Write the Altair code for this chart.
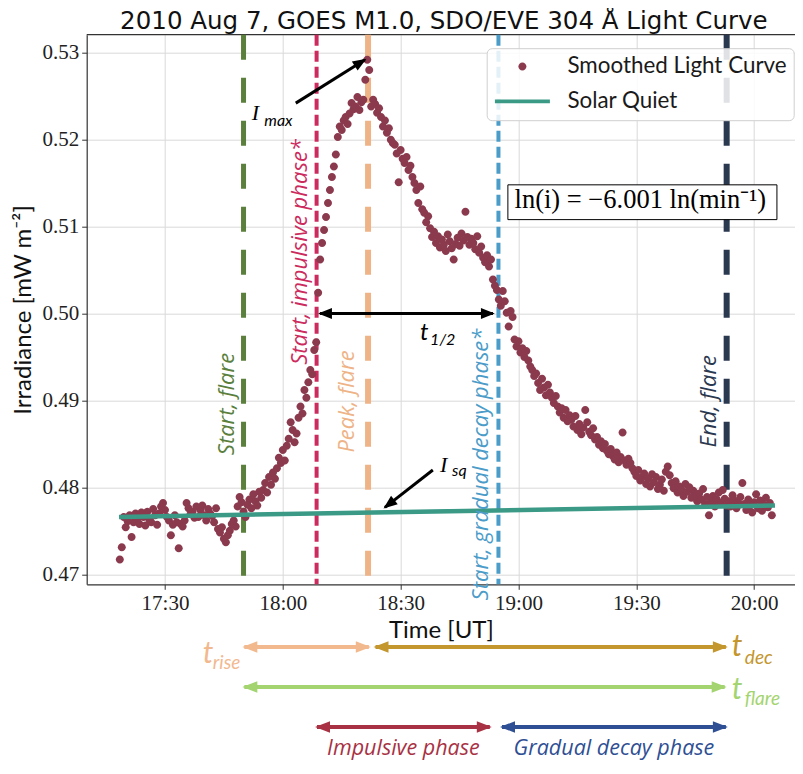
import math
import altair as alt
import pandas as pd

# ---------------- data ----------------
TITLE = "2010 Aug 7, GOES M1.0, SDO/EVE 304 Å Light Curve"

# Smoothed light curve, irradiance in mW m^-2; time in minutes after 17:00 UT,
# first sample at 17:18.5, one sample every 0.5 min
curve_start = 18.5
curve_step = 0.5
curve_values = [
    0.4717, 0.4731, 0.4766, 0.4754, 0.4761, 0.4768, 0.4743, 0.4760, 0.4770, 0.4764,
    0.4758, 0.4771, 0.4766, 0.4756, 0.4772, 0.4763, 0.4760, 0.4775, 0.4768, 0.4757,
    0.4770, 0.4778, 0.4782, 0.4774, 0.4766, 0.4762, 0.4745, 0.4757, 0.4768, 0.4760,
    0.4730, 0.4758, 0.4755, 0.4762, 0.4782, 0.4776, 0.4769, 0.4772, 0.4765, 0.4778,
    0.4766, 0.4774, 0.4779, 0.4768, 0.4762, 0.4775, 0.4770, 0.4767, 0.4760, 0.4776,
    0.4752, 0.4748, 0.4754, 0.4741, 0.4737, 0.4745, 0.4750, 0.4758, 0.4762, 0.4755,
    0.4778, 0.4789, 0.4783, 0.4772, 0.4766, 0.4780, 0.4786, 0.4776, 0.4792, 0.4784,
    0.4779, 0.4795, 0.4788, 0.4797, 0.4805, 0.4794, 0.4812, 0.4803, 0.4817, 0.4810,
    0.4822, 0.4834, 0.4828, 0.4843, 0.4831, 0.4848, 0.4856, 0.4875, 0.4866, 0.4852,
    0.4862, 0.4880, 0.4893, 0.4885, 0.4912, 0.4903, 0.4921, 0.4935, 0.4930, 0.4958,
    0.4967, 0.5024, 0.5062, 0.5081, 0.5096, 0.5111, 0.5127, 0.5142, 0.5157, 0.5169,
    0.5183, 0.5203, 0.5215, 0.5211, 0.5222, 0.5226, 0.5218, 0.5230, 0.5242, 0.5235,
    0.5238, 0.5249, 0.5234, 0.5243, 0.5246, 0.5269, 0.5292, 0.5280, 0.5238, 0.5246,
    0.5241, 0.5231, 0.5236, 0.5226, 0.5215, 0.5222, 0.5208, 0.5213, 0.5200, 0.5196,
    0.5194, 0.5184, 0.5151, 0.5188, 0.5178, 0.5173, 0.5180, 0.5165, 0.5170, 0.5157,
    0.5150, 0.5142, 0.5127, 0.5146, 0.5120, 0.5116, 0.5105, 0.5112, 0.5098, 0.5088,
    0.5094, 0.5081, 0.5089, 0.5076, 0.5085, 0.5079, 0.5072, 0.5091, 0.5083, 0.5075,
    0.5062, 0.5080, 0.5087, 0.5078, 0.5092, 0.5084, 0.5117, 0.5088, 0.5079, 0.5086,
    0.5081, 0.5074, 0.5089, 0.5070, 0.5077, 0.5064, 0.5059, 0.5067, 0.5054, 0.5062,
    0.5039, 0.5032, 0.5027, 0.5016, 0.5009, 0.5026, 0.5014, 0.5001, 0.4985, 0.5003,
    0.4996, 0.4970, 0.4962, 0.4968, 0.4955, 0.4960, 0.4950, 0.4957, 0.4946, 0.4939,
    0.4935, 0.4928, 0.4931, 0.4920, 0.4912, 0.4925, 0.4915, 0.4906, 0.4918, 0.4909,
    0.4903, 0.4897, 0.4905, 0.4893, 0.4886, 0.4891, 0.4880, 0.4889, 0.4876, 0.4883,
    0.4878, 0.4870, 0.4882, 0.4866, 0.4873, 0.4861, 0.4869, 0.4889, 0.4875, 0.4864,
    0.4860, 0.4868, 0.4855, 0.4858, 0.4849, 0.4853, 0.4845, 0.4850, 0.4842, 0.4838,
    0.4844, 0.4836, 0.4832, 0.4840, 0.4829, 0.4835, 0.4863, 0.4831, 0.4826, 0.4833,
    0.4828, 0.4822, 0.4818, 0.4813, 0.4820, 0.4808, 0.4812, 0.4816, 0.4804, 0.4810,
    0.4801, 0.4815, 0.4806, 0.4812, 0.4798, 0.4803, 0.4809, 0.4796, 0.4818, 0.4824,
    0.4814, 0.4805, 0.4799, 0.4807, 0.4794, 0.4801, 0.4797, 0.4790, 0.4804, 0.4795,
    0.4800, 0.4788, 0.4796, 0.4791, 0.4784, 0.4793, 0.4786, 0.4798, 0.4781, 0.4789,
    0.4768, 0.4783, 0.4790, 0.4778, 0.4786, 0.4794, 0.4782, 0.4797, 0.4787, 0.4779,
    0.4784, 0.4778, 0.4791, 0.4785, 0.4776, 0.4782, 0.4789, 0.4805, 0.4781, 0.4774,
    0.4786, 0.4779, 0.4771, 0.4783, 0.4792, 0.4776, 0.4785, 0.4773, 0.4780, 0.4788,
    0.4777, 0.4782, 0.4768,
]

series_names = ["Smoothed Light Curve", "Solar Quiet"]

quiet_times = [18.3, 185.3]
quiet_values = [0.4766, 0.4779]

event_labels = ["Start, flare", "Start, impulsive phase*", "Peak, flare",
                "Start, gradual decay phase*", "End, flare"]
event_times = [50.0, 68.6, 81.7, 114.9, 173.0]
event_label_values = [0.4837, 0.4941, 0.4840, 0.4670, 0.4846]

x_ticks = [30, 60, 90, 120, 150, 180]
y_ticks = [0.47, 0.48, 0.49, 0.50, 0.51, 0.52, 0.53]

# in-plot arrows (tail -> head)
arrow_names = ["I_max", "I_sq", "t_1/2"]
arrow_t0 = [63.3, 98.2, 69.45]
arrow_v0 = [0.5242, 0.4820, 0.5000]
arrow_t1 = [80.9, 86.0, 113.5]
arrow_v1 = [0.5292, 0.4777, 0.5000]
arrow_double = [False, False, True]

math_labels = ["I", "max", "t", "1/2", "I", "sq"]
math_t = [52.1, 55.3, 94.9, 97.5, 100.0, 103.1]
math_v = [0.5223, 0.5216, 0.4970, 0.4964, 0.4818, 0.4813]

eq_text = "ln(i) = −6.001  ln(min⁻¹)"
eq_t = [117.3, 185.8, 151.0]
eq_v = [0.5108, 0.5148, 0.51215]

# duration arrows below the axis
span_names = ["t_rise", "t_dec", "t_flare", "Impulsive phase", "Gradual decay phase"]
span_start = [50.2, 83.6, 50.2, 68.7, 115.8]
span_end = [81.9, 172.8, 172.5, 112.7, 172.8]
span_row = [1, 1, 2, 3, 3]

# ---------------- style ----------------
X_DOMAIN = [10.07, 190.4]
Y_DOMAIN = [0.46885, 0.53207]
W, H = 708.3, 549.6
series_colors = ["#8b3a4e", "#3a9a86"]
event_colors = ["#5b7f3c", "#cc2b5e", "#eeb488", "#4b9cc9", "#2b3950"]
event_dash = [[25, 18], [11, 5], [25, 18], [11, 5], [25, 18]]
event_width = [5, 4, 6, 4, 6]
event_dy = [-10, -10, -14, -10, -11]
math_size = [22, 16, 24, 16, 22, 16]
math_serif = [True, False, False, False, True, False]
span_colors = ["#f2b98f", "#c4962e", "#a3d46f", "#a83244", "#2f4f94"]
SANS = "Lato"
ITAL = "Open Sans"
SERIF = "Liberation Serif"
TITLE_FONT = "DejaVu Sans"
SPINE = "#333333"

DOT = "M-0.4,0A0.4,0.4,0,1,1,0.4,0A0.4,0.4,0,1,1,-0.4,0Z"
BAR = "M-2.75,-0.19L2.75,-0.19L2.75,0.19L-2.75,0.19Z"
HEAD = "M0.3,0L-2,-0.9L-2,0.9Z"

LABEL_EXPR = ("(17 + floor(datum.value / 60)) + ':' + "
              "(datum.value % 60 < 10 ? '0' : '') + (datum.value % 60)")

XS = alt.Scale(domain=X_DOMAIN, nice=False, zero=False)
YS = alt.Scale(domain=Y_DOMAIN, nice=False, zero=False)
AXIS_STYLE = dict(grid=True, tickSize=5, labelPadding=3, labelFont=SERIF, labelFontSize=21,
                  labelColor="#222222", titleFont=SANS, titleFontSize=24,
                  titleFontWeight="normal", titleColor="#111111", gridColor="#d9d9d9",
                  domainColor=SPINE, domainWidth=1.2, tickColor=SPINE)
X_AXIS = alt.Axis(values=x_ticks, labelExpr=LABEL_EXPR, title="Time  [UT]", titlePadding=5,
                  **AXIS_STYLE)
Y_AXIS = alt.Axis(values=y_ticks, format=".2f", title="Irradiance [mW  m⁻²]", titlePadding=6,
                  **AXIS_STYLE)


def xq(f):
    return alt.X(f"{f}:Q", scale=XS, axis=X_AXIS)


def yq(f):
    return alt.Y(f"{f}:Q", scale=YS, axis=Y_AXIS)


ppm = W / (X_DOMAIN[1] - X_DOMAIN[0])
ppv = H / (Y_DOMAIN[1] - Y_DOMAIN[0])

# ---------------- tables ----------------
curve_df = pd.DataFrame({
    "t": [curve_start + curve_step * i for i in range(len(curve_values))],
    "v": curve_values,
    "series": series_names[0],
})
quiet_df = pd.DataFrame({"t": quiet_times, "v": quiet_values})

layers = []

# top frame line
frame_df = pd.DataFrame({"t": [X_DOMAIN[0]], "t2": [X_DOMAIN[1]], "v": [Y_DOMAIN[1]]})
layers.append(alt.Chart(frame_df).mark_rule(color=SPINE, strokeWidth=1.2).encode(
    x=xq("t"), x2="t2:Q", y=yq("v")))

# event rules
for i in range(len(event_times)):
    d = pd.DataFrame({"t": [event_times[i]], "v": [event_label_values[i]], "label": [event_labels[i]]})
    layers.append(alt.Chart(d).mark_rule(color=event_colors[i], strokeWidth=event_width[i],
                                         strokeDash=event_dash[i]).encode(x=xq("t")))

# light curve points with legend (legend lists both series)
legend = alt.Legend(title=None, orient="none", legendX=400, legendY=13.5, direction="vertical",
                    fillColor="rgba(255,255,255,0.85)", strokeColor="#cfcfcf", cornerRadius=5,
                    padding=7, symbolSize=400, symbolOffset=17.5, symbolStrokeWidth=0,
                    labelFont=SANS, labelFontSize=22.4, labelColor="#1a1a1a", labelOffset=33.8,
                    rowPadding=12, labelLimit=400)
layers.append(alt.Chart(curve_df).mark_point(filled=True, size=400, opacity=1).encode(
    x=xq("t"), y=yq("v"),
    color=alt.Color("series:N", scale=alt.Scale(domain=series_names, range=series_colors), legend=legend),
    shape=alt.Shape("series:N", scale=alt.Scale(domain=series_names, range=[DOT, BAR]), legend=legend),
))

# solar quiet line
layers.append(alt.Chart(quiet_df).mark_line(color=series_colors[1], strokeWidth=4.5).encode(
    x=xq("t"), y=yq("v")))

# event labels
for i in range(len(event_times)):
    d = pd.DataFrame({"t": [event_times[i]], "v": [event_label_values[i]], "label": [event_labels[i]]})
    layers.append(alt.Chart(d).mark_text(angle=270, align="left", baseline="alphabetic",
                                         dy=event_dy[i], font=ITAL, fontStyle="italic",
                                         fontSize=22, color=event_colors[i]).encode(
        x=xq("t"), y=yq("v"), text="label:N"))

# in-plot arrows
arr_rows, head_rows = [], []
for i in range(len(arrow_names)):
    ang = math.degrees(math.atan2(-(arrow_v1[i] - arrow_v0[i]) * ppv, (arrow_t1[i] - arrow_t0[i]) * ppm)) % 360
    arr_rows.append({"t": arrow_t0[i], "v": arrow_v0[i], "t2": arrow_t1[i], "v2": arrow_v1[i]})
    head_rows.append({"t": arrow_t1[i], "v": arrow_v1[i], "ang": ang})
    if arrow_double[i]:
        head_rows.append({"t": arrow_t0[i], "v": arrow_v0[i], "ang": (ang + 180) % 360})
arr_df = pd.DataFrame(arr_rows)
head_df = pd.DataFrame(head_rows)
layers.append(alt.Chart(arr_df).mark_rule(color="black", strokeWidth=3).encode(
    x=xq("t"), y=yq("v"), x2="t2:Q", y2="v2:Q"))
layers.append(alt.Chart(head_df).mark_point(filled=True, shape=HEAD, size=144, opacity=1, color="black").encode(
    x=xq("t"), y=yq("v"), angle=alt.Angle("ang:Q", scale=None)))

# math labels
math_df = pd.DataFrame({"t": math_t, "v": math_v, "label": math_labels, "size": math_size,
                        "serif": math_serif})
for serif in (True, False):
    layers.append(alt.Chart(math_df).transform_filter(
        f"datum.serif == {'true' if serif else 'false'}").mark_text(
        align="left", baseline="alphabetic", font=SERIF if serif else SANS, fontStyle="italic",
        color="black").encode(x=xq("t"), y=yq("v"), text="label:N",
                              size=alt.Size("size:Q", scale=None)))

# equation box
box_df = pd.DataFrame({"t": [eq_t[0]], "t2": [eq_t[1]], "v": [eq_v[0]], "v2": [eq_v[1]]})
layers.append(alt.Chart(box_df).mark_rect(fill="white", stroke="black", strokeWidth=1).encode(
    x=xq("t"), x2="t2:Q", y=yq("v"), y2="v2:Q"))
eq_df = pd.DataFrame({"t": [eq_t[2]], "v": [eq_v[2]], "label": [eq_text]})
layers.append(alt.Chart(eq_df).mark_text(align="center", baseline="alphabetic", font=SERIF,
                                         fontSize=26.5, color="black").encode(
    x=xq("t"), y=yq("v"), text="label:N"))

main = alt.layer(*layers)

# ---------------- duration arrows below the plot ----------------
RS = alt.Scale(domain=[0, 4], range=[572.3, 732.3])
span_df = pd.DataFrame({"name": span_names, "t0": span_start, "t1": span_end, "row": span_row,
                        "color": span_colors})
span_df["mid"] = (span_df["t0"] + span_df["t1"]) / 2


def yr():
    return alt.Y("row:Q", scale=RS, axis=None)


blayers = [
    alt.Chart(span_df).mark_rule(strokeWidth=4).encode(
        x=xq("t0"), x2="t1:Q", y=yr(), color=alt.Color("color:N", scale=None)),
    alt.Chart(span_df).mark_point(filled=True, shape=HEAD, size=169, opacity=1, angle=0).encode(
        x=xq("t1"), y=yr(), color=alt.Color("color:N", scale=None)),
    alt.Chart(span_df).mark_point(filled=True, shape=HEAD, size=169, opacity=1, angle=180).encode(
        x=xq("t0"), y=yr(), color=alt.Color("color:N", scale=None)),
]

# t_x labels: (span index, text, anchor end, align, dx, dy, size)
t_label_specs = [
    (0, "t", "t0", "right", -31, 16, 30), (0, "rise", "t0", "right", -4, 22, 19),
    (1, "t", "t1", "left", 6, 9, 30), (1, "dec", "t1", "left", 19, 17, 19),
    (2, "t", "t1", "left", 7, 12, 30), (2, "flare", "t1", "left", 20, 18, 19),
]
for idx, txt, end, align, dx, dy, size in t_label_specs:
    d = pd.DataFrame({"t": [span_df.loc[idx, end]], "row": [span_row[idx]], "label": [txt]})
    blayers.append(alt.Chart(d).mark_text(align=align, baseline="alphabetic", dx=dx, dy=dy,
                                          font=SANS, fontStyle="italic", fontSize=size,
                                          color=span_colors[idx]).encode(
        x=xq("t"), y=yr(), text="label:N"))

for idx in (3, 4):
    d = span_df.iloc[[idx]]
    blayers.append(alt.Chart(d).mark_text(align="center", baseline="alphabetic", dy=28,
                                          font=ITAL, fontStyle="italic", fontSize=21.5,
                                          color=span_colors[idx]).encode(
        x=xq("mid"), y=yr(), text="name:N"))

bottom = alt.layer(*blayers)

chart = alt.layer(main, bottom).resolve_scale(y="independent").properties(
    width=W, height=H,
    title=alt.Title(TITLE, font=TITLE_FONT, fontSize=24.5, fontWeight="normal", color="#111111",
                    offset=-3, anchor="middle", frame="group", dx=3),
    autosize=alt.AutoSizeParams(type="none"),
    padding={"left": 78.7, "top": 26.7, "right": 0, "bottom": 175.7},
).configure_view(stroke="transparent")

chart.save("out.html", embed_options={"renderer": "svg", "actions": False})
